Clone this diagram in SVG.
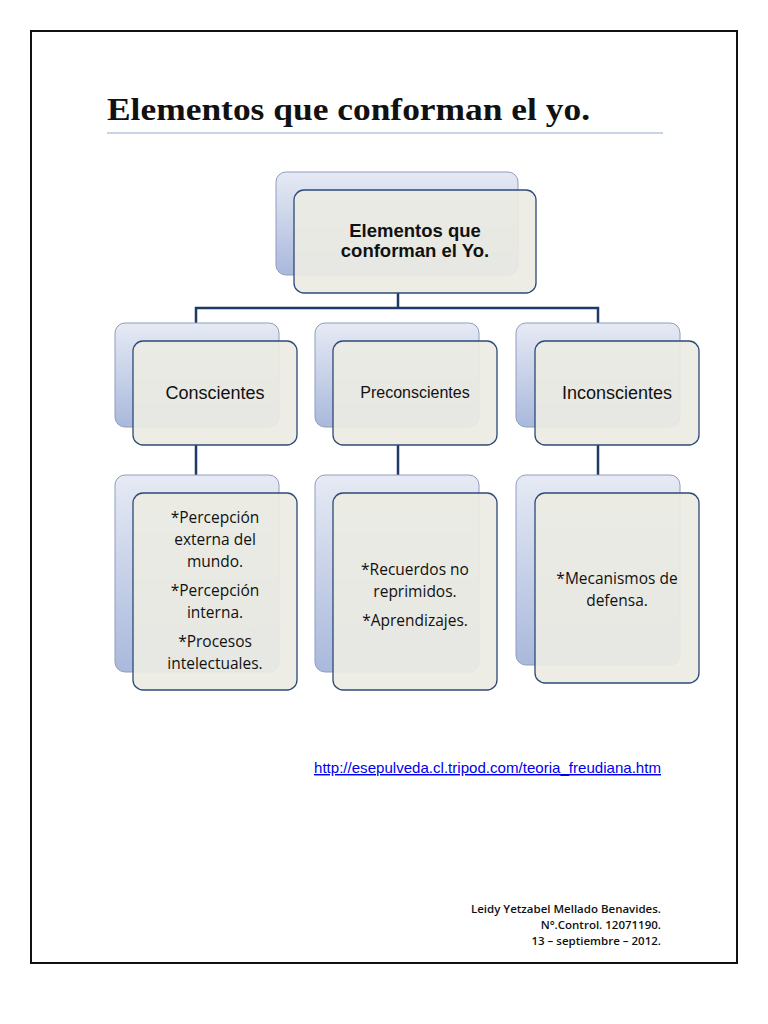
<svg xmlns="http://www.w3.org/2000/svg" width="768" height="1024" viewBox="0 0 768 1024">
<defs>
<linearGradient id="bg" x1="0" y1="0" x2="0" y2="1"><stop offset="0" stop-color="#e6eaf4"/><stop offset="1" stop-color="#a9b8dc"/></linearGradient>
<style>
.back{fill:url(#bg);stroke:#8f9dbd;stroke-width:1}
.front{fill:#ecebe3;fill-opacity:0.92;stroke:#2c4a78;stroke-width:1.3}
.c{stroke:#1d3b66;stroke-width:2.5;fill:none}
.t{font-family:"Liberation Sans",Arial,sans-serif;fill:#111;text-anchor:middle}
.b{font-family:"Open Sans","DejaVu Sans",sans-serif;fill:#111;text-anchor:middle;font-size:15.5px}
</style>
</defs>
<rect width="768" height="1024" fill="#fff"/>
<rect x="31" y="31" width="706" height="932" fill="none" stroke="#111" stroke-width="2"/>
<text x="107" y="120" font-family="'Liberation Serif',serif" font-weight="bold" font-size="32" fill="#111" textLength="483" lengthAdjust="spacingAndGlyphs">Elementos que conforman el yo.</text>
<line x1="107" y1="133" x2="663" y2="133" stroke="#8fa9cc" stroke-width="1"/>
<g id="connectors">
<path class="c" d="M398 293V308M196 323V308H598V323M196 445V475M398 445V475M598 445V475"/>
</g>
<g id="root"><rect class="back" x="276" y="172" width="242" height="103" rx="10"/><rect class="front" x="294" y="190" width="242" height="103" rx="10"/>
<text class="t" font-weight="bold" font-size="18.5"><tspan x="415" y="237">Elementos que</tspan><tspan x="415" y="257">conforman el Yo.</tspan></text></g>
<g id="conscientes"><rect class="back" x="115" y="323" width="164" height="104" rx="10"/><rect class="front" x="133" y="341" width="164" height="104" rx="10"/><text class="t" x="215" y="399" font-size="18">Conscientes</text></g>
<g id="preconscientes"><rect class="back" x="315" y="323" width="164" height="104" rx="10"/><rect class="front" x="333" y="341" width="164" height="104" rx="10"/><text class="t" x="415" y="398" font-size="16">Preconscientes</text></g>
<g id="inconscientes"><rect class="back" x="516" y="323" width="164" height="104" rx="10"/><rect class="front" x="535" y="341" width="164" height="104" rx="10"/><text class="t" x="617" y="399" font-size="18">Inconscientes</text></g>
<g id="d1"><rect class="back" x="115" y="475" width="164" height="197" rx="10"/><rect class="front" x="133" y="493" width="164" height="197" rx="10"/>
<text class="b"><tspan x="215" y="523">*Percepción</tspan><tspan x="215" y="545">externa del</tspan><tspan x="215" y="567">mundo.</tspan><tspan x="215" y="596">*Percepción</tspan><tspan x="215" y="618">interna.</tspan><tspan x="215" y="647">*Procesos</tspan><tspan x="215" y="669">intelectuales.</tspan></text></g>
<g id="d2"><rect class="back" x="315" y="475" width="164" height="197" rx="10"/><rect class="front" x="333" y="493" width="164" height="197" rx="10"/>
<text class="b"><tspan x="415" y="575">*Recuerdos no</tspan><tspan x="415" y="597">reprimidos.</tspan><tspan x="415" y="626">*Aprendizajes.</tspan></text></g>
<g id="d3"><rect class="back" x="516" y="475" width="164" height="190" rx="10"/><rect class="front" x="535" y="493" width="164" height="190" rx="10"/>
<text class="b"><tspan x="617" y="584">*Mecanismos de</tspan><tspan x="617" y="606">defensa.</tspan></text></g>
<text x="314" y="773" font-family="'Liberation Sans',Arial,sans-serif" font-size="14.5" fill="#0000ee" text-decoration="underline" textLength="347" lengthAdjust="spacingAndGlyphs">http://esepulveda.cl.tripod.com/teoria_freudiana.htm</text>
<g font-family="'Open Sans','DejaVu Sans',sans-serif" font-size="11.5" font-weight="600" fill="#111" text-anchor="end">
<text x="661" y="913">Leidy Yetzabel Mellado Benavides.</text>
<text x="661" y="929">N°.Control. 12071190.</text>
<text x="661" y="945">13 – septiembre – 2012.</text>
</g>
</svg>
